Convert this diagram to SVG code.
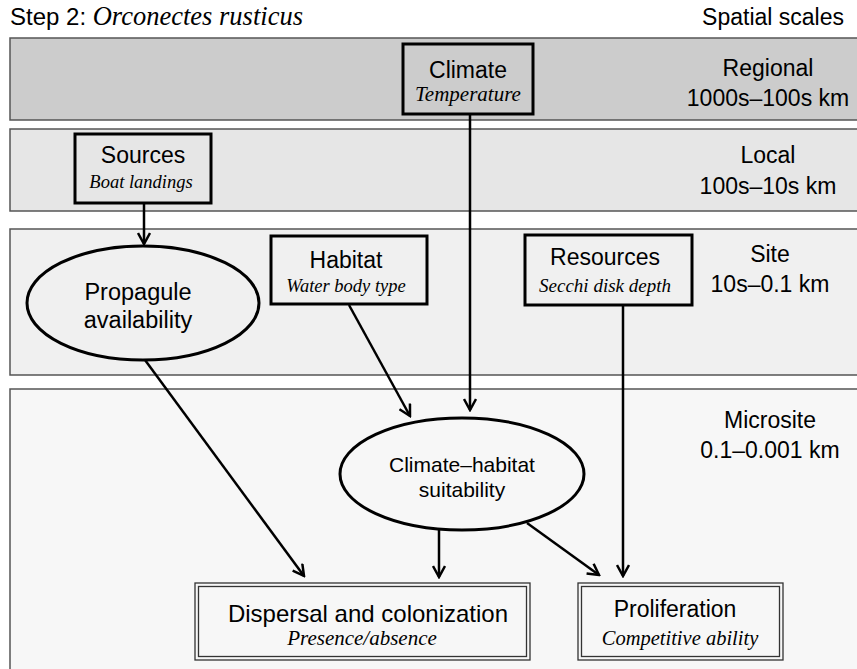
<svg xmlns="http://www.w3.org/2000/svg" width="857" height="669" viewBox="0 0 857 669">
<defs>
<style>
.band{stroke:#555;stroke-width:1.5}
.box{fill:none;stroke:#000;stroke-width:3}
.ell{stroke:#000;stroke-width:3}
.dbl{fill:none;stroke:#333;stroke-width:1.3}
.sans{font-family:"Liberation Sans",Arial,sans-serif;fill:#000}
.it{font-family:"Liberation Serif","Times New Roman",serif;font-style:italic;fill:#000}
.conn{stroke:#000;stroke-width:2.5;fill:none}
.scale{font-size:23px;text-anchor:middle}
</style>
<marker id="arr" viewBox="0 0 14 14" refX="12" refY="7" markerWidth="14" markerHeight="14" markerUnits="userSpaceOnUse" orient="auto">
<path d="M1,1 L12,7 L1,13" fill="none" stroke="#000" stroke-width="2.5"/>
</marker>
</defs>
<rect width="857" height="669" fill="#fff"/>
<text x="10" y="25" class="sans" font-size="24">Step 2: <tspan class="it" font-size="26.5">Orconectes rusticus</tspan></text>
<text x="844" y="25" class="sans" font-size="23" text-anchor="end">Spatial scales</text>

<g id="band-regional">
<rect x="10" y="38" width="860" height="82" fill="#cccccc" class="band"/>
<text x="768" y="76" class="sans scale">Regional</text>
<text x="768" y="106" class="sans scale">1000s–100s km</text>
</g>
<g id="band-local">
<rect x="10" y="129" width="860" height="82" fill="#e6e6e6" class="band"/>
<text x="768" y="163" class="sans scale">Local</text>
<text x="768" y="194" class="sans scale">100s–10s km</text>
</g>
<g id="band-site">
<rect x="10" y="229" width="860" height="146" fill="#f0f0f0" class="band"/>
<text x="770" y="262" class="sans scale">Site</text>
<text x="770" y="292" class="sans scale">10s–0.1 km</text>
</g>
<g id="band-microsite">
<rect x="10" y="389" width="860" height="300" fill="#f7f7f7" class="band"/>
<text x="770" y="428" class="sans scale">Microsite</text>
<text x="770" y="458" class="sans scale">0.1–0.001 km</text>
</g>

<g id="connectors">
<line x1="144" y1="203" x2="144" y2="244" class="conn" marker-end="url(#arr)"/>
<line x1="470" y1="114" x2="470" y2="410" class="conn" marker-end="url(#arr)"/>
<line x1="349" y1="305" x2="410" y2="416" class="conn" marker-end="url(#arr)"/>
<line x1="145" y1="360" x2="304" y2="576" class="conn" marker-end="url(#arr)"/>
<line x1="439" y1="530" x2="439" y2="577" class="conn" marker-end="url(#arr)"/>
<line x1="527" y1="523" x2="599" y2="575" class="conn" marker-end="url(#arr)"/>
<line x1="623" y1="305" x2="623" y2="576" class="conn" marker-end="url(#arr)"/>
</g>

<g id="climate">
<rect x="403" y="44" width="130" height="70" class="box"/>
<text x="468" y="78" class="sans" font-size="23" text-anchor="middle">Climate</text>
<text x="468" y="101" class="it" font-size="21" text-anchor="middle">Temperature</text>
</g>
<g id="sources">
<rect x="75" y="134" width="136" height="69" class="box"/>
<text x="143" y="163" class="sans" font-size="23" text-anchor="middle">Sources</text>
<text x="141" y="188" class="it" font-size="18.5" text-anchor="middle">Boat landings</text>
</g>
<g id="propagule">
<ellipse cx="143" cy="303" rx="116" ry="57" fill="#f0f0f0" class="ell"/>
<text x="138" y="300" class="sans" font-size="23.5" text-anchor="middle">Propagule</text>
<text x="138" y="328" class="sans" font-size="23.5" text-anchor="middle">availability</text>
</g>
<g id="habitat">
<rect x="271" y="236" width="156" height="68" class="box"/>
<text x="346" y="268" class="sans" font-size="23" text-anchor="middle">Habitat</text>
<text x="346" y="292" class="it" font-size="18.5" text-anchor="middle">Water body type</text>
</g>
<g id="resources">
<rect x="525" y="235" width="167" height="70" class="box"/>
<text x="605" y="265" class="sans" font-size="23" text-anchor="middle">Resources</text>
<text x="605" y="292" class="it" font-size="19" text-anchor="middle">Secchi disk depth</text>
</g>
<g id="climate-habitat">
<ellipse cx="462" cy="474" rx="122" ry="56" fill="#f7f7f7" class="ell"/>
<text x="462" y="472" class="sans" font-size="21" text-anchor="middle">Climate–habitat</text>
<text x="462" y="497" class="sans" font-size="21" text-anchor="middle">suitability</text>
</g>
<g id="dispersal">
<rect x="195" y="583" width="335" height="77" fill="#fff" class="dbl"/>
<rect x="198.5" y="586.5" width="328" height="70" class="dbl"/>
<text x="368" y="622" class="sans" font-size="24" text-anchor="middle">Dispersal and colonization</text>
<text x="362" y="645" class="it" font-size="21" text-anchor="middle">Presence/absence</text>
</g>
<g id="proliferation">
<rect x="578" y="583" width="205" height="77" fill="#fff" class="dbl"/>
<rect x="581.5" y="586.5" width="198" height="70" class="dbl"/>
<text x="675" y="617" class="sans" font-size="23" text-anchor="middle">Proliferation</text>
<text x="680" y="645" class="it" font-size="20.5" text-anchor="middle">Competitive ability</text>
</g>
</svg>
